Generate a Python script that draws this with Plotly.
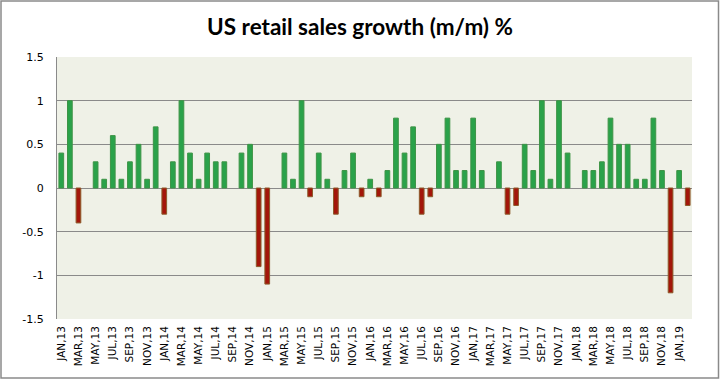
import plotly.graph_objects as go

months = ["JAN", "FEB", "MAR", "APR", "MAY", "JUN", "JUL", "AUG", "SEP", "OCT", "NOV", "DEC"]
categories = [f"{m},{y:02d}" for y in range(13, 20) for m in months][:74]

values = [
    0.4, 1.0, -0.4, 0.0, 0.3, 0.1, 0.6, 0.1, 0.3, 0.5, 0.1, 0.7,   # 2013
    -0.3, 0.3, 1.0, 0.4, 0.1, 0.4, 0.3, 0.3, 0.0, 0.4, 0.5, -0.9,  # 2014
    -1.1, 0.0, 0.4, 0.1, 1.0, -0.1, 0.4, 0.1, -0.3, 0.2, 0.4, -0.1, # 2015
    0.1, -0.1, 0.2, 0.8, 0.4, 0.7, -0.3, -0.1, 0.5, 0.8, 0.2, 0.2,  # 2016
    0.8, 0.2, 0.0, 0.3, -0.3, -0.2, 0.5, 0.2, 1.0, 0.1, 1.0, 0.4,   # 2017
    0.0, 0.2, 0.2, 0.3, 0.8, 0.5, 0.5, 0.1, 0.1, 0.8, 0.2, -1.2,    # 2018
    0.2, -0.2,                                                     # 2019
]

tick_labels = categories[::2]
y_ticks = [-1.5, -1.0, -0.5, 0.0, 0.5, 1.0, 1.5]
y_tick_text = ["-1.5", "-1", "-0.5", "0", "0.5", "1", "1.5"]

W, H = 720, 379
ml, mr, mt, mb = 57, 28, 57, 60

fill = ["#2AA24A" if v >= 0 else "#A3160A" for v in values]
edge = ["#3E9446" if v >= 0 else "#8C5A2A" for v in values]
edge_w = [1 if v != 0 else 0 for v in values]

fig = go.Figure(go.Bar(
    x=categories, y=values,
    marker=dict(color=fill, line=dict(color=edge, width=edge_w)),
    width=0.55,
))

fig.update_layout(
    width=W, height=H,
    margin=dict(l=ml, r=mr, t=mt, b=mb, autoexpand=False),
    paper_bgcolor="white",
    plot_bgcolor="#EFF1E7",
    showlegend=False,
    title=dict(text="US retail sales growth (m/m) %", x=0.5, xref="container", xanchor="center",
               y=1 - 27 / H, yanchor="middle",
               font=dict(family="Lato", size=22.5, color="black", weight="bold")),
    font=dict(family="DejaVu Sans", size=11, color="black"),
)
fig.update_xaxes(
    type="category",
    tickmode="array", tickvals=tick_labels, ticktext=tick_labels,
    tickangle=-90, tickfont=dict(size=10.5),
    showgrid=False, showline=False, ticks="", zeroline=False,
    range=[-0.5, len(values) - 0.5], automargin=False, ticklabelstandoff=4,
)
fig.update_yaxes(
    range=[-1.5, 1.5], tickmode="array", tickvals=y_ticks, ticktext=y_tick_text,
    showgrid=True, gridcolor="#8A8A8A", gridwidth=1,
    zeroline=True, zerolinecolor="#8A8A8A", zerolinewidth=1,
    showline=True, linecolor="#8A8A8A", linewidth=1,
    ticks="", ticklabelstandoff=10, automargin=False,
)
pw = W - ml - mr
ph = H - mt - mb
fig.add_shape(type="rect", xref="paper", yref="paper",
              x0=-(ml - 1) / pw, x1=1 + (mr - 1.5) / pw,
              y0=-(mb - 1) / ph, y1=1 + (mt - 1) / ph,
              line=dict(color="#8A8A8A", width=1.5), layer="below")

fig.write_html("out.html", config={"displayModeBar": False},
               post_script="document.body.style.margin='0';document.body.style.overflow='hidden';")
